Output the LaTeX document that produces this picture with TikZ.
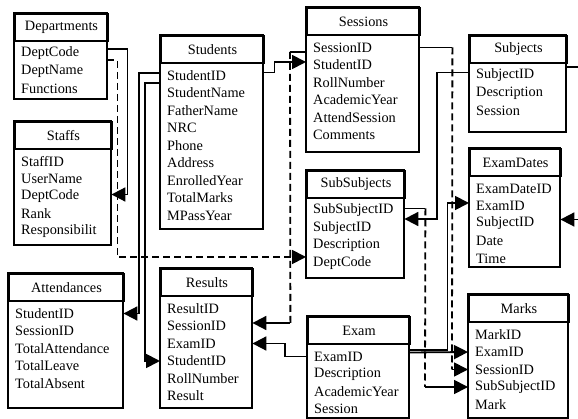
\documentclass[tikz,border=0pt]{standalone}
\usepackage{fontspec}
\setmainfont{Liberation Serif}
\usepackage{tikz}
\usetikzlibrary{arrows.meta,calc}
\tikzset{
    every node/.style={font=\fontsize{14.3}{17}\selectfont}
}
\tikzset{
    entity/.style={draw, line width=2pt, minimum height=27pt, inner sep=0pt},
    field/.style={inner xsep=7pt, inner ysep=0pt, align=left},
    relation/.style={line width=1.8pt},
    fkdash/.style={relation, dash pattern=on 7pt off 4pt},
    >={Triangle[length=14pt,width=14pt]}
}
% name, left, top, width, bottom, title, fields
\newcommand{\dbtable}[7]{%
    \node[entity, minimum width=#4, anchor=north west] (#1) at (#2,#3) {#6};
    \draw[line width=2pt] (#1.north west) rectangle (#2+#4,#5);
    \pgfmathsetmacro\fieldw{#4-14}
    \foreach \fld [count=\i] in {#7}
        \node[field, text width=\fieldw pt, anchor=west] (#1-\i) at (#2,#3+23+17.5*\i) {\fld};
}

\begin{document}
\begin{tikzpicture}[x=1pt, y=-1pt]
	\useasboundingbox (0,0) rectangle (578,419);
	\dbtable{dep}{14}{13}{93}{99}{Departments}{DeptCode,DeptName,Functions}
	\dbtable{stf}{14}{121}{97}{245}{Staffs}{StaffID,UserName,DeptCode,Rank,Responsibilit}
	\dbtable{att}{8}{273}{115}{408}{Attendances}{StudentID,SessionID,TotalAttendance,TotalLeave,TotalAbsent}
	\dbtable{stu}{160}{35}{103}{229}{Students}{StudentID,StudentName,FatherName,NRC,Phone,Address,EnrolledYear,TotalMarks,MPassYear}
	\dbtable{res}{160}{268}{92}{408}{Results}{ResultID,SessionID,ExamID,StudentID,RollNumber,Result}
	\dbtable{ses}{306}{7}{113}{152}{Sessions}{SessionID,StudentID,RollNumber,AcademicYear,AttendSession,Comments}
	\dbtable{sub}{306}{170}{98}{278}{SubSubjects}{SubSubjectID,SubjectID,Description,DeptCode}
	\dbtable{exm}{307}{316}{102}{418}{Exam}{ExamID,Description,AcademicYear,Session}
	\dbtable{sbj}{469}{35}{97}{132}{Subjects}{SubjectID,Description,Session}
	\dbtable{exd}{469}{148}{91}{267}{ExamDates}{ExamDateID,ExamID,SubjectID,Date,Time}
	\dbtable{mrk}{468}{294}{100}{418}{Marks}{MarkID,ExamID,SessionID,SubSubjectID,Mark}
	% Departments
	\draw[relation,->] ([yshift=4.5pt]dep-1.east) -- ++(20,0) |- ([yshift=2pt]stf-3.east);
	\draw[fkdash,->] ([yshift=-6.5pt]dep-1.east) -- ++(10,0) |- ([yshift=6pt]sub-4.west);
	% Students
	\draw[relation,->] ([yshift=2.5pt]stu-1.west) -- ++(-21,0) |- (att-1.east);
	\draw[relation,->] ([yshift=-7.5pt]stu-1.west) -- ++(-15,0) |- (res-4.west);
	\draw[relation,->] ([yshift=3pt]stu-1.east) -- ++(11,0) |- ([yshift=3pt]ses-2.west);
	% Sessions
	\draw[relation] ([yshift=-4.5pt]ses-1.west) -- ++(-16,0) coordinate (s1);
	\draw[relation,<-] ([yshift=3pt]res-2.east) -- ++(38,0) coordinate (s2);
	\draw[fkdash] (s1) -- (s2);
	\draw[relation] (ses-1.east) -- ++(33,0) coordinate (s3);
	\draw[relation,<-] (mrk-3.west) -- ++(-16,0) coordinate (s4);
	\draw[fkdash] (s3) -- (s4);
	% SubSubjects
	\draw[relation] ([yshift=2pt]sub-1.east) -- ++(21,0) coordinate (s5);
	\draw[relation,<-] (mrk-4.west) -- ++(-43,0) coordinate (s6);
	\draw[fkdash] (s5) -- (s6);
	% Subjects
	\draw[relation,->] ([yshift=3pt]sbj-1.west) -- ++(-32,0) |- ([yshift=9pt]sub-2.east);
	\draw[relation,->] ([yshift=8.5pt]sbj-1.east) -- ++(14,0) |- ([yshift=4pt]exd-3.east);
	% Exam
	\draw[relation,->] (exm-1.west) -- ++(-22,0) |- (res-3.east);
	\draw[relation,->] ([yshift=6.5pt]exm-1.east) -- ++(38,0) |- ([yshift=3pt]exd-2.west);
	\draw[relation,->] ([yshift=4pt]exm-1.east) -- (mrk-2.west);
\end{tikzpicture}
\end{document}
